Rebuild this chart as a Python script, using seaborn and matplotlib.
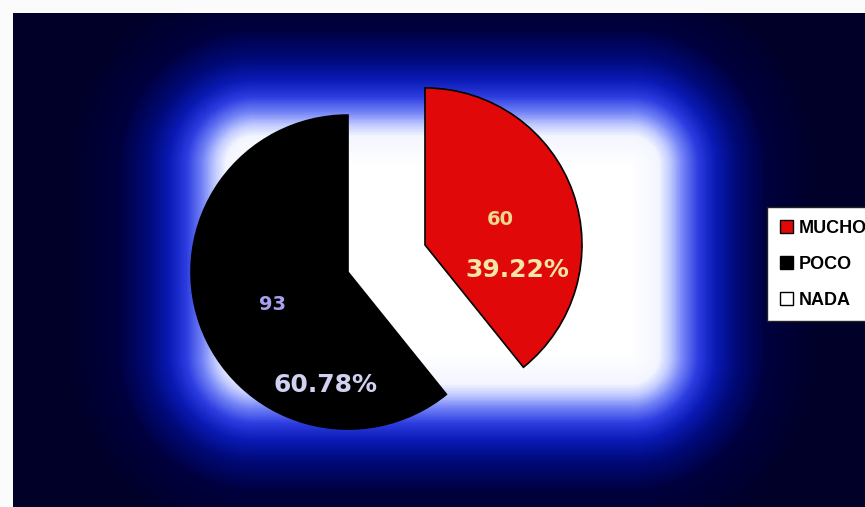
import numpy as np
import matplotlib
matplotlib.use("Agg")
import matplotlib.pyplot as plt
from matplotlib.colors import LinearSegmentedColormap
from matplotlib.patches import Patch
import seaborn as sns

# datos de la encuesta
categorias = ['MUCHO', 'POCO', 'NADA']
valores = [60, 93, 0]
colores = ['#e00808', '#000000', '#ffffff']
color_valor = ['#f0d890', '#a8a0f0']
color_pct = ['#f3e6a8', '#d0d0f2']

sns.set_style('white')
plt.rcParams['font.family'] = ['DejaVu Sans']

W, H = 865, 507
fig = plt.figure(figsize=(W / 100, H / 100), dpi=100)
fig.patch.set_facecolor('#fbfbfb')

# fondo azul oscuro con brillo blanco al centro
bg = fig.add_axes([0, 0, 1, 1])
xx, yy = np.meshgrid(np.arange(13, W) + 0.5, np.arange(13, H) + 0.5)
dx = np.clip(np.maximum(255 - xx, xx - 630), 0, None)
dy = np.clip(np.maximum(165 - yy, yy - 355), 0, None)
d = np.hypot(dx, dy)
glow = LinearSegmentedColormap.from_list('glow', [
    (0.0, '#ffffff'), (0.15, '#f4f6ff'), (0.21, '#c0caff'), (0.28, '#7080f6'),
    (0.36, '#2c3ce0'), (0.45, '#0a1ab4'), (0.56, '#000a78'), (0.72, '#00003e'),
    (1.0, '#000028')])
bg.imshow(d, cmap=glow, vmin=0, vmax=190, extent=(13, W, H, 13),
          interpolation='bilinear', aspect='auto')
bg.set_xlim(0, W)
bg.set_ylim(H, 0)
bg.axis('off')

# pastel
R = 157
cx, cy = 386.5, 258.5
half = 260
ax = fig.add_axes([(cx - half) / W, (H - cy - half) / H, 2 * half / W, 2 * half / H])
ax.patch.set_alpha(0)

vals = [v for v in valores if v > 0]
cols = [c for c, v in zip(colores, valores) if v > 0]
wedges, _ = ax.pie(vals, colors=cols, startangle=90, counterclock=False,
                   explode=[0.26] * len(vals),
                   wedgeprops=dict(edgecolor='black', linewidth=1.2))
ax.set_xlim(-half / R, half / R)
ax.set_ylim(-half / R, half / R)

total = sum(vals)
# desplazamientos de etiquetas (px) respecto al vertice de cada porcion
offs = [((75, 25), (92, -25)), ((-76, -32), (-23, -113))]
for i, (w, v, (o1, o2)) in enumerate(zip(wedges, vals, offs)):
    x0, y0 = w.center
    ax.text(x0 + o1[0] / R, y0 + o1[1] / R, f'{v}', color=color_valor[i],
            fontsize=14, fontweight='bold', ha='center', va='center')
    ax.text(x0 + o2[0] / R, y0 + o2[1] / R, f'{v / total * 100:.2f}%',
            color=color_pct[i], fontsize=18, fontweight='bold',
            ha='center', va='center')

# leyenda
handles = [Patch(facecolor=c, edgecolor='black', label=l) for c, l in zip(colores, categorias)]
fig.legend(handles=handles, loc='upper left', bbox_to_anchor=(767 / W, 1 - 207 / H),
           borderaxespad=0, frameon=True, fancybox=False, edgecolor='#222222',
           framealpha=1, facecolor='white', labelcolor='black',
           prop=dict(family=['Liberation Sans Narrow', 'Liberation Sans'],
                     weight='bold', size=13),
           handlelength=0.75, handleheight=0.75, handletextpad=0.3,
           labelspacing=1.05, borderpad=0.7)

fig.savefig('out.png', dpi=100)
